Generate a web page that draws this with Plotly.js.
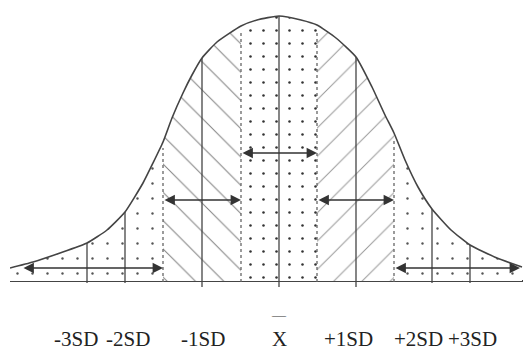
<!DOCTYPE html>
<html>
<head>
<meta charset="utf-8">
<script src="https://cdn.plot.ly/plotly-3.0.1.min.js"></script>
<style>
  body { margin: 0; background: #fff; }
  #chart { width: 523px; height: 351px; }
</style>
</head>
<body>
<div id="chart"></div>
<script>
// bell curve (x = offset from the mean, y = height)
var curveX = [-269, -246, -219, -192, -172, -154, -136, -126, -116, -107, -96, -87, -77, -62, -38, -22, 0,
              22, 38, 57, 77, 93, 106, 115, 126, 139, 153, 172, 191, 218, 243];
var curveY = [13, 19, 28, 38, 51, 69, 98, 118, 139, 163, 188, 206, 223, 239, 255, 261, 265,
              261, 256, 243, 224, 194, 166, 148, 121, 94, 72, 51, 36, 23, 14];

// vertical dividers
var solidX = [-192, -154, -77, 0, 77, 153, 191];
var solidFoot = [-2, -2, -6, -6, -6, -2, -2];
var dottedX = [-116, -38, 38, 115];

// shaded bands between these edges
var bandEdges = [-269, -116, -38, 38, 115, 243];

// double arrows: level, from, to
var arrowY = [128, 81, 81, 13, 13];
var arrowFrom = [-38, -116, 38, -257, 115];
var arrowTo = [38, -38, 115, -116, 241];

// labels under the axis
var labelX = [-203, -151, -76, 0, 69, 139, 193];
var labelText = ['-3SD', '-2SD', '-1SD', 'X', '+1SD', '+2SD', '+3SD'];

function heightAt(x) {
  return curveY[curveX.indexOf(x)];
}

var patterns = [
  {shape: '.', fgcolor: '#555', size: 15, solidity: 0.02},
  {shape: '\\', fgcolor: '#808080', size: 20, solidity: 0.05},
  {shape: '.', fgcolor: '#333', size: 13, solidity: 0.03},
  {shape: '/', fgcolor: '#999', size: 20, solidity: 0.05},
  {shape: '.', fgcolor: '#555', size: 15, solidity: 0.02}
];

var traces = [];

for (var b = 0; b < bandEdges.length - 1; b++) {
  var bx = [], by = [];
  for (var i = 0; i < curveX.length; i++) {
    if (curveX[i] >= bandEdges[b] && curveX[i] <= bandEdges[b + 1]) {
      bx.push(curveX[i]);
      by.push(curveY[i]);
    }
  }
  var p = patterns[b];
  traces.push({
    x: bx, y: by, type: 'scatter', mode: 'lines',
    line: {width: 0, shape: 'spline', smoothing: 0.5},
    fill: 'tozeroy', fillcolor: 'rgba(0,0,0,0)',
    fillpattern: {shape: p.shape, fgcolor: p.fgcolor, bgcolor: '#fff', size: p.size, solidity: p.solidity},
    hoverinfo: 'skip'
  });
}

for (var s = 0; s < solidX.length; s++) {
  traces.push({
    x: [solidX[s], solidX[s]], y: [solidFoot[s], heightAt(solidX[s])],
    type: 'scatter', mode: 'lines', line: {color: '#444', width: 1.3}, hoverinfo: 'skip'
  });
}

for (var d = 0; d < dottedX.length; d++) {
  traces.push({
    x: [dottedX[d], dottedX[d]], y: [-1, heightAt(dottedX[d]) - 6],
    type: 'scatter', mode: 'lines', line: {color: '#666', width: 1.3, dash: 'dot'}, hoverinfo: 'skip'
  });
}

traces.push({
  x: curveX, y: curveY, type: 'scatter', mode: 'lines',
  line: {color: '#444', width: 1.6, shape: 'spline', smoothing: 0.5}, hoverinfo: 'skip'
});

var annotations = [];
for (var a = 0; a < arrowY.length; a++) {
  annotations.push({
    x: arrowTo[a], y: arrowY[a], ax: arrowFrom[a], ay: arrowY[a],
    xref: 'x', yref: 'y', axref: 'x', ayref: 'y',
    text: '', showarrow: true, arrowside: 'end+start',
    arrowhead: 2, startarrowhead: 2, arrowsize: 1.3, startarrowsize: 1.3,
    arrowwidth: 1.6, arrowcolor: '#333', standoff: 0, startstandoff: 0
  });
}
for (var k = 0; k < labelX.length; k++) {
  annotations.push({
    x: labelX[k], y: -0.22, xref: 'x', yref: 'paper', text: labelText[k], showarrow: false,
    font: {family: 'Liberation Serif, serif', size: 21, color: '#222'}
  });
}
// bar over the mean
annotations.push({
  x: 0, y: -0.12, xref: 'x', yref: 'paper', text: '\u2014', showarrow: false,
  font: {family: 'Liberation Serif, serif', size: 14, color: '#333'}
});

var layout = {
  width: 523, height: 351,
  margin: {l: 10, r: 0, t: 11, b: 60},
  paper_bgcolor: '#fff', plot_bgcolor: '#fff',
  showlegend: false,
  xaxis: {range: [-269, 244], showgrid: false, zeroline: false, showticklabels: false, ticks: ''},
  yaxis: {range: [-10, 270], showgrid: false, showticklabels: false, ticks: '',
          zeroline: true, zerolinecolor: '#444', zerolinewidth: 2},
  annotations: annotations
};

Plotly.newPlot('chart', traces, layout, {staticPlot: true});
</script>
</body>
</html>
